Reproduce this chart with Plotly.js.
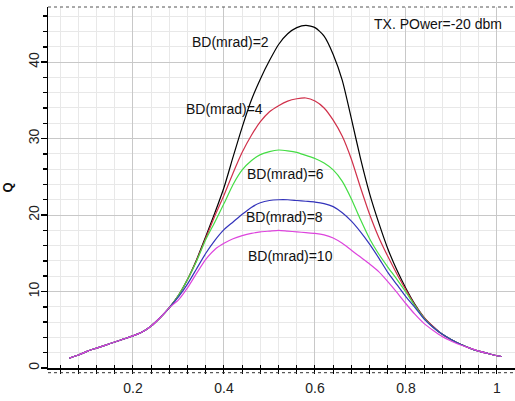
<!DOCTYPE html>
<html>
<head>
<meta charset="utf-8">
<script src="https://cdn.plot.ly/plotly-3.0.1.min.js"></script>
<style>html,body{margin:0;padding:0;background:#fff;}#chart{width:515px;height:401px;}</style>
</head>
<body>
<div id="chart"></div>
<script>
const xVals = [0.06,0.08,0.10,0.12,0.14,0.16,0.18,0.20,0.22,0.24,0.26,0.28,
  0.30,0.32,0.34,0.36,0.38,0.40,0.42,0.44,0.46,0.48,0.50,0.52,0.54,0.56,0.58,0.60,
  0.62,0.64,0.66,0.68,0.70,0.72,0.74,0.76,0.78,0.80,0.82,0.84,0.86,0.88,0.90,0.92,
  0.94,0.96,0.98,1.00,1.01];

const qBD2 = [1.3,1.7,2.2,2.6,3.0,3.4,3.8,4.2,4.7,5.5,6.6,7.9,
  9.5,11.6,14.2,17.2,20.3,23.6,27.6,31.5,35.0,37.8,40.2,42.3,43.7,44.5,44.8,44.5,
  43.4,41.0,37.6,32.6,27.4,22.8,19.0,15.6,12.8,10.4,8.3,6.6,5.4,4.4,3.7,3.1,
  2.6,2.2,1.9,1.6,1.5];
const qBD4 = [1.3,1.7,2.2,2.6,3.0,3.4,3.8,4.2,4.7,5.5,6.6,7.9,
  9.5,11.6,14.1,17.0,19.9,22.6,25.5,28.2,30.4,32.2,33.5,34.3,34.9,35.2,35.3,34.9,
  34.0,32.4,30.3,27.3,23.6,20.1,17.1,14.6,12.3,10.2,8.2,6.6,5.4,4.4,3.7,3.1,
  2.6,2.2,1.9,1.6,1.5];
const qBD6 = [1.3,1.7,2.2,2.6,3.0,3.4,3.8,4.2,4.7,5.5,6.6,7.9,
  9.5,11.6,14.0,16.8,19.1,21.5,24.0,25.9,27.1,27.9,28.3,28.5,28.4,28.2,27.8,27.4,
  26.8,25.9,24.4,22.1,19.4,16.9,14.9,13.2,11.6,9.9,8.1,6.5,5.3,4.4,3.7,3.1,
  2.6,2.2,1.9,1.6,1.5];
const qBD8 = [1.3,1.7,2.2,2.6,3.0,3.4,3.8,4.2,4.7,5.5,6.6,7.9,
  9.3,11.0,13.0,15.0,16.7,18.1,19.1,20.1,21.0,21.6,21.9,22.0,22.0,21.9,21.8,21.7,
  21.5,21.1,20.3,19.2,17.8,16.2,14.4,12.5,10.9,9.3,7.9,6.4,5.3,4.4,3.7,3.1,
  2.6,2.2,1.9,1.6,1.5];
const qBD10 = [1.3,1.7,2.2,2.6,3.0,3.4,3.8,4.2,4.7,5.5,6.6,7.9,
  8.9,10.5,12.4,14.2,15.5,16.3,16.9,17.3,17.6,17.8,17.9,18.0,17.9,17.8,17.7,17.6,
  17.4,17.0,16.3,15.4,14.5,13.6,12.6,11.3,9.9,8.4,7.0,5.8,4.9,4.1,3.5,3.0,
  2.6,2.2,1.9,1.6,1.5];

const seriesNames = ["BD(mrad)=2","BD(mrad)=4","BD(mrad)=6","BD(mrad)=8","BD(mrad)=10"];
const seriesColors = ["#000000","#d0304a","#44dd44","#3333bb","#dd44dd"];
const seriesData = [qBD2,qBD4,qBD6,qBD8,qBD10];

const labelX = [0.414,0.401,0.535,0.532,0.547];
const labelY = [42.6,33.8,25.4,19.8,14.7];
const powerText = "TX. POwer=-20 dbm";

const font = "Arial, 'Liberation Sans', sans-serif";

const traces = seriesData.map((q,i)=>({
  x: xVals, y: q, type: "scatter", mode: "lines", name: seriesNames[i],
  line: {color: seriesColors[i], width: 1.2, shape:"spline", smoothing:0.6},
  showlegend: false, hoverinfo: "skip"
}));
// overlay axis for inward half of crossing ticks
traces.push({x:[xVals[0]], y:[qBD2[0]], xaxis:"x2", type:"scatter", mode:"lines",
  line:{color:"rgba(0,0,0,0)"}, showlegend:false, hoverinfo:"skip"});

const annotations = seriesNames.map((n,i)=>({
  x: labelX[i], y: labelY[i], xref:"x", yref:"y", text: n, showarrow:false,
  font:{family:font, size:14, color:"#111"}
}));
annotations.push({x:0.870, y:45.0, xref:"x", yref:"y", text: powerText, showarrow:false,
  font:{family:font, size:14, color:"#111"}});

const xr = [0.0132, 1.0396];
const layout = {
  width:515, height:401,
  margin:{l:48, r:0, t:7, b:33},
  paper_bgcolor:"#fff", plot_bgcolor:"#fff",
  font:{family:font, size:14, color:"#222"},
  xaxis:{
    range:xr, dtick:0.2, tick0:0, showline:true, linecolor:"#000", linewidth:1.5,
    ticks:"outside", ticklen:4, tickcolor:"#000", tickwidth:1,
    showgrid:true, gridcolor:"#c8c8c8", gridwidth:1, zeroline:false,
    ticklabelstandoff:3,
    tickfont:{family:font, size:14, color:"#222"},
    minor:{dtick:0.04, tick0:0, showgrid:true, gridcolor:"#e8e8e8", gridwidth:1,
      ticks:"outside", ticklen:4, tickcolor:"#000", tickwidth:1}
  },
  xaxis2:{
    range:xr, overlaying:"x", anchor:"y", side:"bottom", dtick:0.04, tick0:0,
    ticks:"inside", ticklen:3, tickcolor:"#000", showticklabels:false,
    showgrid:false, zeroline:false, showline:false
  },
  yaxis:{
    range:[0,47.2], dtick:10, tick0:0, showline:true, linecolor:"#000", linewidth:1.5,
    ticks:"outside", ticklen:6, tickcolor:"#000", tickwidth:1.5, tickangle:-90,
    showgrid:true, gridcolor:"#c8c8c8", gridwidth:1, zeroline:false,
    ticklabelstandoff:-4,
    tickfont:{family:font, size:14, color:"#222"},
    title:{text:"<b>Q</b>", font:{family:font, size:13, color:"#111"}, standoff:12},
    minor:{dtick:2, showgrid:true, gridcolor:"#e8e8e8", gridwidth:1,
      ticks:"outside", ticklen:4, tickcolor:"#000", tickwidth:1.5}
  },
  shapes:[
    {type:"line", xref:"paper", yref:"paper", x0:0, x1:1, y0:1, y1:1,
      line:{color:"#555", width:1, dash:"dot"}},
    {type:"line", xref:"paper", yref:"paper", x0:0, x1:1, y0:-0.013, y1:-0.013,
      line:{color:"#333", width:1, dash:"dot"}}
  ],
  annotations: annotations
};

Plotly.newPlot("chart", traces, layout, {displayModeBar:false, staticPlot:true});
</script>
</body>
</html>
